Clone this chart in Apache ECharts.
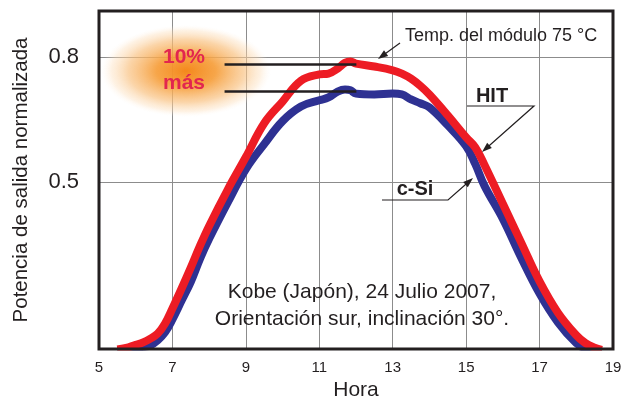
<!DOCTYPE html>
<html>
<head>
<meta charset="utf-8">
<script src="https://cdn.jsdelivr.net/npm/echarts@6/dist/echarts.min.js"></script>
<style>html,body{margin:0;padding:0;background:#fff}#c{width:630px;height:400px}</style>
</head>
<body>
<div id="c"></div>
<script>
// ---- data ----
var hours = [5.5,5.8,6.0,6.2,6.4,6.6,6.8,7.0,7.25,7.5,7.75,8.0,8.5,9.0,9.5,10.0,10.5,11.0,11.25,11.5,11.7,11.85,12.0,12.5,13.0,13.25,13.5,13.75,14.0,14.5,15.0,15.25,15.5,16.0,16.5,17.0,17.5,18.0,18.25,18.5,18.7];
var hitValues = [0.099,0.104,0.110,0.116,0.125,0.137,0.161,0.197,0.245,0.295,0.347,0.395,0.481,0.560,0.641,0.693,0.743,0.758,0.760,0.772,0.786,0.789,0.784,0.777,0.768,0.760,0.748,0.731,0.710,0.660,0.607,0.583,0.541,0.448,0.355,0.262,0.187,0.133,0.114,0.103,0.098];
var csiValues = [0.097,0.099,0.102,0.105,0.109,0.121,0.140,0.171,0.216,0.261,0.316,0.364,0.450,0.531,0.591,0.646,0.681,0.696,0.703,0.717,0.722,0.720,0.712,0.710,0.712,0.710,0.698,0.689,0.679,0.636,0.586,0.543,0.491,0.412,0.319,0.233,0.164,0.114,0.101,0.098,0.097];
var xTickLabels = [5,7,9,11,13,15,17,19];
var xGridValues = [7,9,11,13,15,17];
var yTickLabels = [0.5,0.8];
var peakHit = 0.782, peakCsi = 0.717;

var txt = '#231f20';
var font = '"Liberation Sans", Arial, Helvetica, sans-serif';

function pairs(xs, ys){ return xs.map(function(x,i){ return [x, ys[i]]; }); }

function arrow(points, color){
  var n = points.length;
  var t = points[n-1], p = points[n-2];
  var dx = t[0]-p[0], dy = t[1]-p[1], L = Math.sqrt(dx*dx+dy*dy);
  var ux = dx/L, uy = dy/L, len = 10, hw = 3.5;
  var bx = t[0]-ux*len, by = t[1]-uy*len;
  var line = points.slice(0, n-1).concat([[bx+ux*2, by+uy*2]]);
  return [
    {type:'polyline', z:20, shape:{points: line}, style:{stroke: color, lineWidth: 1.2, fill: null}},
    {type:'polygon', z:20, shape:{points:[t,[bx - uy*hw, by + ux*hw],[bx + uy*hw, by - ux*hw]]}, style:{fill: color}}
  ];
}

var gridLines = xGridValues.map(function(v){ return {xAxis: v}; })
  .concat(yTickLabels.map(function(v){ return {yAxis: v}; }));

var G = {left:99, right:17, top:11, bottom:51};
var W = 630, H = 400;

var chart = echarts.init(document.getElementById('c'), null, {renderer:'canvas'});
var graphics = [
  {type:'circle', z:3, x:186, y:71, scaleX:1.85, scaleY:1, shape:{cx:0, cy:0, r:46},
   style:{fill:{type:'radial', x:0.5, y:0.5, r:0.5, colorStops:[
     {offset:0, color:'rgba(244,136,28,1)'},
     {offset:0.35, color:'rgba(246,158,58,0.92)'},
     {offset:0.68, color:'rgba(249,193,128,0.68)'},
     {offset:0.88, color:'rgba(252,222,186,0.4)'},
     {offset:1, color:'rgba(255,244,232,0)'}]}}},
  // mask below the frame so the curves end under the border
  {type:'rect', z:29, shape:{x:G.left-6, y:H-G.bottom+1.5, width:W-G.left-G.right+12, height:7}, style:{fill:'#fff'}},
  // plot frame on top
  {type:'rect', z:30, shape:{x:G.left, y:G.top, width:W-G.left-G.right, height:H-G.top-G.bottom}, style:{fill:null, stroke:'#231f20', lineWidth:3}},
  {type:'text', z:21, style:{text:'10%', x:184, y:57, textAlign:'center', textVerticalAlign:'middle', font:'bold 21px ' + font, fill:'#e2264f'}},
  {type:'text', z:21, style:{text:'más', x:184, y:83, textAlign:'center', textVerticalAlign:'middle', font:'bold 21px ' + font, fill:'#e2264f'}},
  {type:'text', z:21, style:{text:'Temp. del módulo 75 °C', x:405, y:36, textAlign:'left', textVerticalAlign:'middle', font:'18px ' + font, fill: txt}},
  {type:'text', z:21, style:{text:'HIT', x:492, y:96, textAlign:'center', textVerticalAlign:'middle', font:'bold 20px ' + font, fill: txt}},
  {type:'text', z:21, style:{text:'c-Si', x:415, y:189, textAlign:'center', textVerticalAlign:'middle', font:'bold 20px ' + font, fill: txt}},
  {type:'text', z:21, style:{text:'Kobe (Japón), 24 Julio 2007,\nOrientación sur, inclinación 30°.', x:362, y:306, textAlign:'center', textVerticalAlign:'middle', lineHeight:27, font:'21px ' + font, fill: txt}}
];
graphics = graphics.concat(arrow([[400,43],[378,59]], txt));
graphics = graphics.concat(arrow([[467,106],[534,106],[482,152]], txt));
graphics = graphics.concat(arrow([[382,200],[448,200],[473,178]], txt));

chart.setOption({
  animation: false,
  grid: {left:G.left, right:G.right, top:G.top, bottom:G.bottom, show:false, containLabel:false, outerBoundsMode:'none'},
  xAxis: {
    type:'value', min:5, max:19, interval:1,
    name:'Hora', nameLocation:'middle', nameGap:30,
    nameTextStyle:{color:txt, fontSize:21, fontFamily:font},
    axisLine:{show:false}, axisTick:{show:false}, splitLine:{show:false},
    axisLabel:{color:txt, fontSize:15, fontFamily:font, margin:11,
      formatter:function(v){ return xTickLabels.indexOf(v) >= 0 ? String(v) : ''; }}
  },
  yAxis: {
    type:'value', min:0.1, max:0.91, interval:0.1,
    name:'Potencia de salida normalizada', nameLocation:'middle', nameGap:67, nameRotate:90,
    nameTextStyle:{color:txt, fontSize:20.5, fontFamily:font},
    axisLine:{show:false}, axisTick:{show:false}, splitLine:{show:false},
    axisLabel:{color:txt, fontSize:22, fontFamily:font, margin:20,
      formatter:function(v){ var r = Math.round(v*10)/10; return (Math.abs(v-r)<1e-6 && yTickLabels.indexOf(r) >= 0) ? r.toFixed(1) : ''; }}
  },
  graphic: graphics,
  series: [
    {type:'line', name:'grid', data:[], silent:true,
     markLine:{silent:true, z:1, symbol:'none', label:{show:false}, lineStyle:{color:'#8c8c8c', width:1, type:'solid'}, data: gridLines}},
    {type:'line', name:'c-Si', z:5, data: pairs(hours, csiValues), smooth:0.4, showSymbol:false,
     lineStyle:{color:'#2e3192', width:8}, itemStyle:{color:'#2e3192'}},
    {type:'line', name:'HIT', z:6, data: pairs(hours, hitValues), smooth:0.4, showSymbol:false,
     lineStyle:{color:'#ed1c24', width:8}, itemStyle:{color:'#ed1c24'},
     markLine:{silent:true, z:10, symbol:'none', label:{show:false}, lineStyle:{color:'#231f20', width:2.5, type:'solid'},
       data:[[{coord:[8.42, peakHit]},{coord:[12.01, peakHit]}],[{coord:[8.42, peakCsi]},{coord:[12.01, peakCsi]}]]}}
  ]
});
</script>
</body>
</html>
